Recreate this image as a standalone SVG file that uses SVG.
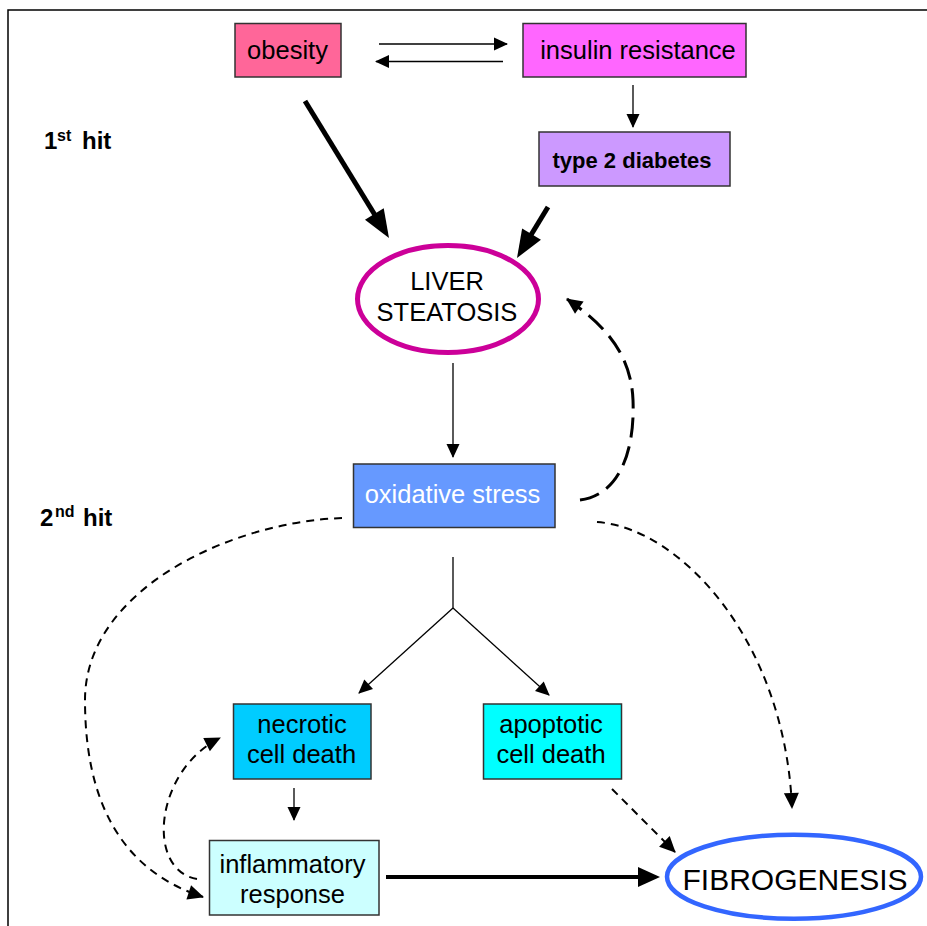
<svg xmlns="http://www.w3.org/2000/svg" width="927" height="926" viewBox="0 0 927 926">
<style>
text{font-family:"Liberation Sans",Arial,Helvetica,sans-serif;fill:#000}
.lbl{font-size:25.5px;text-anchor:middle}
.box{stroke:#333;stroke-width:1.5}
.thin{fill:none;stroke:#000;stroke-width:1.3}
.thick{fill:none;stroke:#000;stroke-width:5}
.thick2{fill:none;stroke:#000;stroke-width:4}
.dash{fill:none;stroke:#000;stroke-width:2;stroke-dasharray:8 6}
.ldash{fill:none;stroke:#000;stroke-width:3;stroke-dasharray:20 9}
.hit{font-weight:bold}
</style>
<defs>
<marker id="mThin" markerUnits="userSpaceOnUse" markerWidth="14" markerHeight="13" refX="13" refY="6.5" orient="auto" overflow="visible"><path d="M0,0 L14,6.5 L0,13 z" fill="#000"/></marker>
<marker id="mThick" markerUnits="userSpaceOnUse" markerWidth="28" markerHeight="22" refX="2" refY="11" orient="auto" overflow="visible"><path d="M0,0 L28,11 L0,22 z" fill="#000"/></marker>
<marker id="mThick2" markerUnits="userSpaceOnUse" markerWidth="22" markerHeight="20" refX="2" refY="10" orient="auto" overflow="visible"><path d="M0,0 L22,10 L0,20 z" fill="#000"/></marker>
<marker id="mDash" markerUnits="userSpaceOnUse" markerWidth="16" markerHeight="15" refX="15" refY="7.5" orient="auto" overflow="visible"><path d="M0,0 L16,7.5 L0,15 z" fill="#000"/></marker>
</defs>
<rect width="927" height="926" fill="#fff"/>
<rect x="8" y="10" width="1000" height="1000" fill="none" stroke="#000" stroke-width="1.5"/>

<text class="hit" font-size="24"><tspan x="44" y="149">1</tspan><tspan x="57" y="141" font-size="16">st</tspan><tspan x="82" y="149">hit</tspan></text>
<text class="hit" font-size="24"><tspan x="40" y="526">2</tspan><tspan x="55" y="517" font-size="16">nd</tspan><tspan x="83" y="526">hit</tspan></text>

<g id="connectors">
<path class="thin" d="M379,44 H507" marker-end="url(#mThin)"/>
<path class="thin" d="M503,61.5 H376" marker-end="url(#mThin)"/>
<path class="thin" d="M633,85 V127" marker-end="url(#mThin)"/>
<path class="thick" d="M305,101 L375.4,215.8" marker-end="url(#mThick)"/>
<path class="thick" d="M548,207 L530.5,235.8" marker-end="url(#mThick)"/>
<path class="thin" d="M453,363 V457" marker-end="url(#mThin)"/>
<path class="ldash" d="M580,500 C620,495 635,450 633,400 C631,350 600,322 567,299" marker-end="url(#mDash)"/>
<path class="thin" d="M453,557 V608"/>
<path class="thin" d="M453,608 L359,693" marker-end="url(#mThin)"/>
<path class="thin" d="M453,608 L549,695" marker-end="url(#mThin)"/>
<path class="dash" d="M342,518 C230,522 85,590 85,700 C85,800 120,870 203,897" marker-end="url(#mDash)"/>
<path class="dash" d="M597,522 C680,528 785,640 792,808" marker-end="url(#mDash)"/>
<path class="thin" d="M294,788 V820" marker-end="url(#mThin)"/>
<path class="dash" d="M197,879 C145,870 155,770 220,738" marker-end="url(#mDash)"/>
<path class="dash" d="M612,789 L675,852" marker-end="url(#mDash)"/>
<path class="thick2" d="M386,877 H640" marker-end="url(#mThick2)"/>
</g>

<g id="obesity">
<rect class="box" x="235" y="23.5" width="106" height="53.5" fill="#FF6699"/>
<text class="lbl" x="287.5" y="59">obesity</text>
</g>
<g id="insulin-resistance">
<rect class="box" x="523" y="23.5" width="223" height="53.5" fill="#FF66FF"/>
<text class="lbl" x="638" y="59">insulin resistance</text>
</g>
<g id="type2-diabetes">
<rect class="box" x="539" y="132" width="191" height="54" fill="#CC99FF"/>
<text x="632" y="168" font-size="22" font-weight="bold" text-anchor="middle">type 2 diabetes</text>
</g>
<g id="liver-steatosis">
<ellipse cx="448" cy="299" rx="90.5" ry="53.5" fill="#fff" stroke="#CC0099" stroke-width="5"/>
<text class="lbl" x="447" y="290">LIVER</text>
<text class="lbl" x="447" y="321">STEATOSIS</text>
</g>
<g id="oxidative-stress">
<rect class="box" x="353.5" y="464" width="201.5" height="63.5" fill="#6699FF"/>
<text class="lbl" x="452.5" y="503" style="fill:#fff">oxidative stress</text>
</g>
<g id="necrotic">
<rect class="box" x="233.5" y="704" width="137.5" height="75" fill="#00CCFF"/>
<text class="lbl" x="302" y="733">necrotic</text>
<text class="lbl" x="301.5" y="763">cell death</text>
</g>
<g id="apoptotic">
<rect class="box" x="483.5" y="704" width="138" height="75" fill="#00FFFF"/>
<text class="lbl" x="551" y="733">apoptotic</text>
<text class="lbl" x="551" y="763">cell death</text>
</g>
<g id="inflammatory">
<rect class="box" x="209.5" y="840.5" width="169.5" height="74.5" fill="#CCFFFF"/>
<text class="lbl" x="292.5" y="873">inflammatory</text>
<text class="lbl" x="292.5" y="903">response</text>
</g>
<g id="fibrogenesis">
<ellipse cx="794" cy="876.7" rx="127" ry="42" fill="#fff" stroke="#3366FF" stroke-width="4.5"/>
<text x="795" y="890" font-size="30" text-anchor="middle">FIBROGENESIS</text>
</g>
</svg>
